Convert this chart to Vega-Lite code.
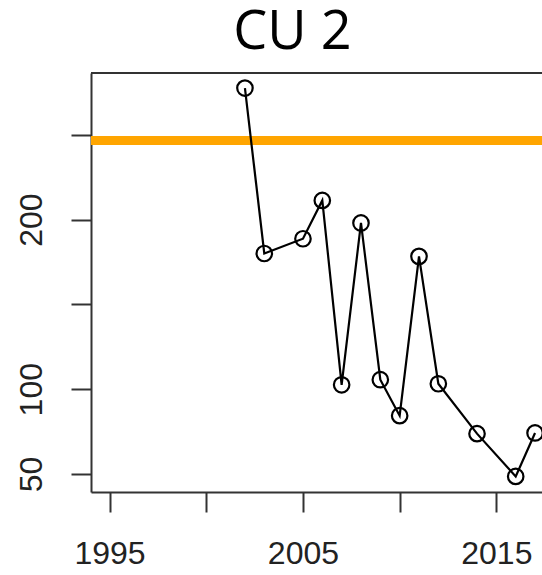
{
  "$schema": "https://vega.github.io/schema/vega-lite/v6.json",
  "autosize": "none",
  "padding": {"left": 91, "top": 73, "right": 0, "bottom": 83},
  "width": 451,
  "height": 419,
  "background": "white",
  "view": {"stroke": null},
  "title": {
    "text": "CU 2",
    "font": "Open Sans",
    "fontSize": 54,
    "fontWeight": "normal",
    "color": "black",
    "anchor": "middle",
    "frame": "group",
    "dx": -24,
    "offset": 12
  },
  "datasets": {
    "series": [
      {"year": 2002, "value": 277.5},
      {"year": 2003, "value": 180},
      {"year": 2005, "value": 188.7},
      {"year": 2006, "value": 211.3},
      {"year": 2007, "value": 102.6},
      {"year": 2008, "value": 198},
      {"year": 2009, "value": 105.6},
      {"year": 2010, "value": 84.4},
      {"year": 2011, "value": 178.3},
      {"year": 2012, "value": 103.2},
      {"year": 2014, "value": 73.8},
      {"year": 2016, "value": 48.6},
      {"year": 2017, "value": 74.2}
    ],
    "reference": [{"value": 246.6}],
    "frame": [{"value": 286.4}]
  },
  "layer": [
    {
      "data": {"name": "frame"},
      "mark": {"type": "rule", "color": "#333333", "strokeWidth": 2},
      "encoding": {
        "y": {"field": "value", "type": "quantitative"}
      }
    },
    {
      "data": {"name": "reference"},
      "mark": {"type": "rule", "color": "#FFA500", "strokeWidth": 9},
      "encoding": {
        "y": {"field": "value", "type": "quantitative"}
      }
    },
    {
      "data": {"name": "series"},
      "mark": {"type": "line", "color": "black", "strokeWidth": 2.2},
      "encoding": {
        "x": {
          "field": "year",
          "type": "quantitative",
          "scale": {"domain": [1994.04, 2017.36], "nice": false, "zero": false},
          "axis": {
            "title": null,
            "values": [1995, 2000, 2005, 2010, 2015],
            "labelExpr": "datum.value == 2000 || datum.value == 2010 ? '' : datum.label",
            "format": "d",
            "grid": false,
            "domainColor": "#333333",
            "domainWidth": 2,
            "tickColor": "#333333",
            "tickWidth": 2,
            "tickSize": 20,
            "labelFont": "Liberation Sans",
            "labelFontSize": 32,
            "labelColor": "#222222",
            "labelPadding": 26,
            "labelOverlap": false,
            "labelFlush": false
          }
        },
        "y": {
          "field": "value",
          "type": "quantitative",
          "scale": {"domain": [39.4, 286.4], "nice": false, "zero": false},
          "axis": {
            "title": null,
            "values": [50, 100, 150, 200, 250],
            "labelExpr": "datum.value == 150 || datum.value == 250 ? '' : datum.label",
            "grid": false,
            "domainColor": "#333333",
            "domainWidth": 2,
            "tickColor": "#333333",
            "tickWidth": 2,
            "tickSize": 20,
            "labelAngle": -90,
            "labelAlign": "center",
            "labelBaseline": "bottom",
            "labelFont": "Liberation Sans",
            "labelFontSize": 32,
            "labelColor": "#222222",
            "labelPadding": 23,
            "labelOverlap": false,
            "labelFlush": false
          }
        }
      }
    },
    {
      "data": {"name": "series"},
      "mark": {"type": "point", "shape": "circle", "filled": false, "stroke": "black", "strokeWidth": 2.2, "size": 240, "opacity": 1},
      "encoding": {
        "x": {"field": "year", "type": "quantitative"},
        "y": {"field": "value", "type": "quantitative"}
      }
    }
  ]
}
